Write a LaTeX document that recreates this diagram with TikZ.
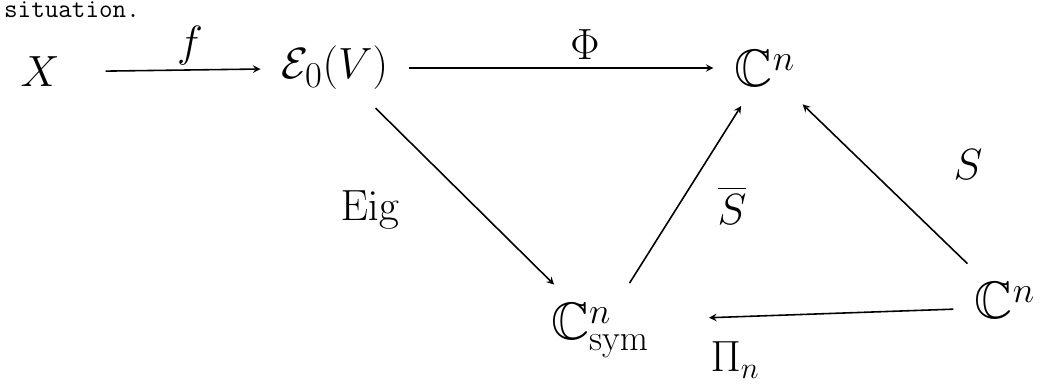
\documentclass[tikz,border=0pt]{standalone}
\usepackage{amssymb}
\begin{document}
\begin{tikzpicture}[x=0.02cm,y=-0.02cm,
    obj/.style={font=\fontsize{30}{36}\selectfont, inner sep=6pt},
    lbl/.style={font=\fontsize{24}{28}\selectfont},
    map/.style={->, line width=0.9pt, >=stealth, shorten >=6pt, shorten <=6pt}]
      \useasboundingbox (0,0) rectangle (1050,385);
      \node[anchor=west, font=\ttfamily\fontsize{15}{18}\selectfont, inner sep=1pt] (txt) at (2,10) {situation.};
      \node[obj] (X) at (40,72) {$X$};
      \node[obj] (E) at (335,68) {$\mathcal{E}_0(V)$};
      \node[obj] (Ct) at (765,68) {$\mathbb{C}^n$};
      \node[obj] (Cs) at (600,330) {$\mathbb{C}^n_{\mathrm{sym}}$};
      \node[obj] (Cr) at (1005,300) {$\mathbb{C}^n$};
      \draw[map, shorten <=20pt] (X) -- (E);
      \draw[map] (E) -- (Ct);
      \draw[map] (E) -- (Cs);
      \draw[map] (Cs) -- (Ct);
      \draw[map] (Cr) -- (Ct);
      \draw[map, shorten >=28pt] ([yshift=-5pt]Cr.west) -- ([yshift=6pt]Cs.east);
      \node[lbl] (lf) at (190,46) {$f$};
      \node[lbl] (lphi) at (585,45) {$\Phi$};
      \node[lbl] (leig) at (370,210) {$\mathrm{Eig}$};
      \node[lbl] (lsbar) at (732,205) {$\overline{S}$};
      \node[lbl] (ls) at (968,165) {$S$};
      \node[lbl] (lpi) at (735,360) {$\Pi_n$};
    \end{tikzpicture}
\end{document}
